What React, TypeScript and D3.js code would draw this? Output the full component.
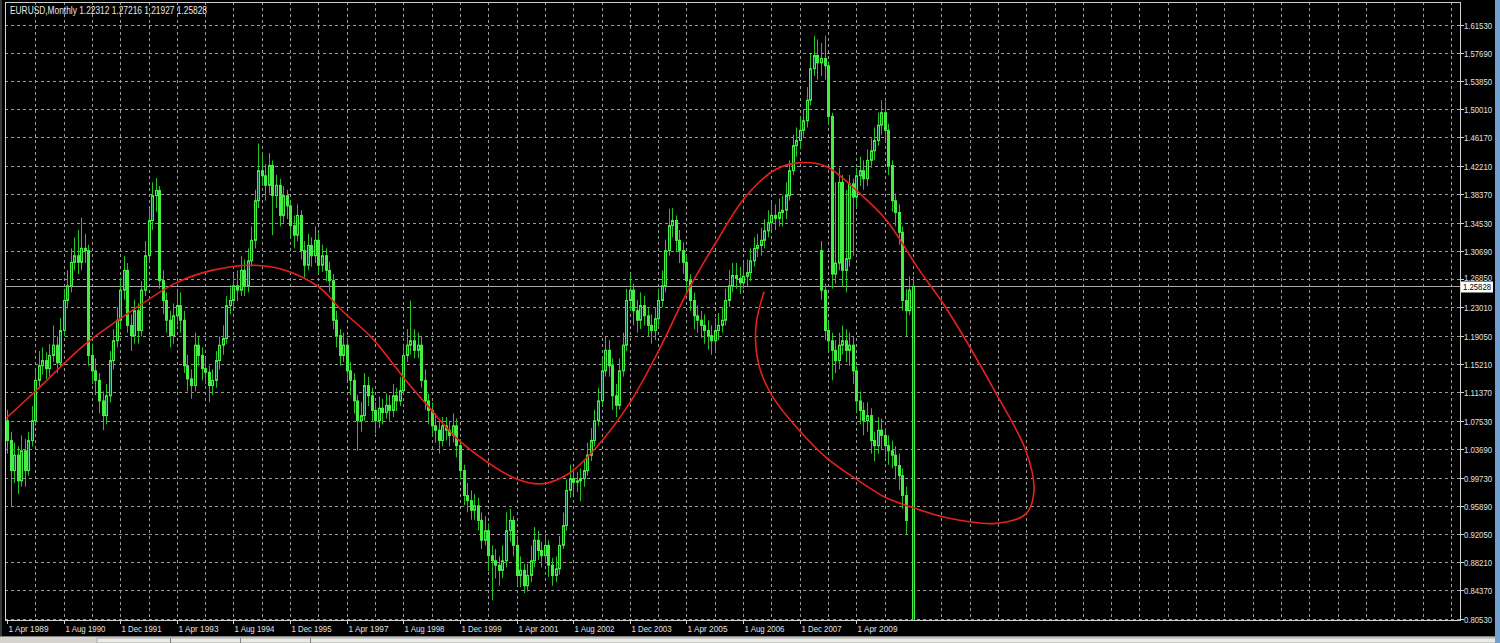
import React from "react";
import * as d3 from "d3";

const W = 1500;
const H = 643;

const titleText = "EURUSD,Monthly  1.22312 1.27216 1.21927 1.25828";
const priceTicks = ["1.61530","1.57690","1.53850","1.50010","1.46170","1.42210","1.38370","1.34530","1.30690","1.26850","1.23010","1.19050","1.15210","1.11370","1.07530","1.03690","0.99730","0.95890","0.92050","0.88210","0.84370","0.80530"];
const dateLabels = ["1 Apr 1989","1 Aug 1990","1 Dec 1991","1 Apr 1993","1 Aug 1994","1 Dec 1995","1 Apr 1997","1 Aug 1998","1 Dec 1999","1 Apr 2001","1 Aug 2002","1 Dec 2003","1 Apr 2005","1 Aug 2006","1 Dec 2007","1 Apr 2009"];
const currentPrice = 1.25828;

const firstOpen = 1.075;
const closes = [
  1.048,1.007,1.028,0.993,1.034,1.007,1.048,1.075,1.130,1.150,1.157,1.146,
  1.164,1.178,1.154,1.198,1.239,1.259,1.291,1.300,1.291,1.310,1.307,1.164,
  1.143,1.130,1.102,1.082,1.109,1.157,1.184,1.212,1.253,1.280,1.205,1.191,
  1.225,1.198,1.253,1.300,1.348,1.382,1.389,1.266,1.239,1.212,1.191,1.218,
  1.232,1.212,1.150,1.132,1.123,1.178,1.164,1.146,1.141,1.123,1.130,1.157,
  1.178,1.187,1.232,1.239,1.259,1.253,1.280,1.259,1.293,1.321,1.375,1.416,
  1.409,1.396,1.423,1.382,1.396,1.355,1.382,1.368,1.341,1.328,1.355,1.307,
  1.287,1.314,1.300,1.321,1.287,1.300,1.280,1.266,1.212,1.191,1.164,1.178,
  1.143,1.130,1.102,1.075,1.082,1.123,1.109,1.089,1.075,1.092,1.086,1.096,
  1.089,1.109,1.102,1.116,1.164,1.178,1.184,1.171,1.178,1.130,1.102,1.089,
  1.068,1.062,1.048,1.068,1.062,1.055,1.068,1.041,1.007,0.973,0.966,0.953,
  0.959,0.939,0.912,0.925,0.891,0.884,0.878,0.871,0.884,0.925,0.939,0.905,
  0.864,0.871,0.850,0.864,0.884,0.912,0.898,0.891,0.905,0.878,0.864,0.873,
  0.905,0.932,0.980,0.996,0.991,0.993,0.996,1.007,1.028,1.048,1.075,1.102,
  1.143,1.171,1.150,1.109,1.096,1.143,1.178,1.239,1.253,1.225,1.212,1.232,
  1.218,1.205,1.198,1.214,1.239,1.259,1.307,1.341,1.348,1.321,1.307,1.291,
  1.266,1.239,1.218,1.212,1.205,1.198,1.191,1.184,1.198,1.205,1.212,1.239,
  1.259,1.273,1.269,1.263,1.272,1.277,1.293,1.310,1.314,1.321,1.334,1.345,
  1.355,1.351,1.359,1.362,1.382,1.416,1.450,1.457,1.471,1.484,1.512,1.555,
  1.573,1.563,1.569,1.559,1.490,1.275,1.290,1.400,1.280,1.296,1.398,1.380,
  1.409,1.416,1.405,1.430,1.443,1.457,1.478,1.495,1.471,1.423,1.375,1.359,
  1.332,1.239,1.225,1.253
];
const highs = [
  1.090,1.060,1.045,1.040,1.055,1.050,1.060,1.095,1.145,1.170,1.175,1.168,
  1.180,1.205,1.190,1.215,1.255,1.280,1.310,1.325,1.335,1.352,1.330,1.315,
  1.180,1.160,1.140,1.115,1.125,1.170,1.200,1.230,1.270,1.300,1.290,1.220,
  1.240,1.235,1.265,1.320,1.365,1.400,1.406,1.395,1.280,1.250,1.225,1.235,
  1.255,1.250,1.225,1.165,1.145,1.195,1.190,1.175,1.160,1.150,1.145,1.170,
  1.190,1.205,1.245,1.260,1.275,1.280,1.300,1.295,1.310,1.340,1.390,1.453,
  1.440,1.425,1.440,1.430,1.410,1.405,1.395,1.390,1.375,1.355,1.370,1.362,
  1.320,1.330,1.325,1.340,1.330,1.315,1.310,1.292,1.275,1.225,1.200,1.195,
  1.188,1.155,1.140,1.110,1.100,1.140,1.135,1.120,1.100,1.108,1.105,1.112,
  1.110,1.125,1.120,1.135,1.180,1.200,1.239,1.200,1.195,1.190,1.145,1.112,
  1.100,1.085,1.075,1.080,1.080,1.075,1.085,1.078,1.050,1.015,0.990,0.980,
  0.975,0.970,0.950,0.945,0.935,0.905,0.900,0.890,0.905,0.950,0.955,0.945,
  0.915,0.890,0.880,0.880,0.905,0.930,0.925,0.910,0.920,0.912,0.888,0.890,
  0.918,0.950,0.995,1.015,1.010,1.005,1.010,1.020,1.045,1.065,1.090,1.120,
  1.160,1.190,1.185,1.160,1.125,1.160,1.195,1.255,1.275,1.262,1.240,1.250,
  1.245,1.230,1.220,1.230,1.255,1.280,1.322,1.364,1.365,1.355,1.335,1.318,
  1.300,1.275,1.250,1.232,1.225,1.220,1.212,1.205,1.215,1.222,1.230,1.255,
  1.280,1.290,1.290,1.285,1.290,1.295,1.310,1.325,1.330,1.338,1.350,1.362,
  1.372,1.370,1.378,1.382,1.400,1.430,1.465,1.475,1.490,1.500,1.530,1.575,
  1.600,1.595,1.590,1.600,1.565,1.495,1.400,1.420,1.410,1.390,1.410,1.405,
  1.420,1.435,1.430,1.445,1.460,1.475,1.495,1.512,1.510,1.480,1.430,1.385,
  1.370,1.340,1.255,1.272
];
const lows = [
  1.030,0.957,0.990,0.975,0.985,0.985,1.000,1.040,1.068,1.120,1.138,1.132,
  1.135,1.155,1.140,1.148,1.190,1.228,1.250,1.280,1.275,1.280,1.290,1.150,
  1.125,1.110,1.085,1.062,1.070,1.100,1.145,1.175,1.200,1.240,1.195,1.170,
  1.180,1.180,1.190,1.245,1.290,1.335,1.360,1.255,1.220,1.195,1.175,1.180,
  1.205,1.195,1.140,1.115,1.105,1.115,1.150,1.130,1.125,1.100,1.110,1.120,
  1.145,1.165,1.180,1.220,1.230,1.238,1.245,1.245,1.250,1.285,1.310,1.365,
  1.395,1.375,1.385,1.328,1.365,1.340,1.345,1.350,1.325,1.310,1.320,1.295,
  1.270,1.280,1.285,1.290,1.275,1.278,1.265,1.250,1.200,1.175,1.150,1.155,
  1.130,1.110,1.085,1.034,1.060,1.075,1.095,1.075,1.058,1.065,1.070,1.078,
  1.075,1.080,1.088,1.095,1.110,1.155,1.165,1.160,1.160,1.120,1.090,1.070,
  1.055,1.045,1.030,1.040,1.048,1.040,1.045,1.025,0.995,0.960,0.950,0.940,
  0.940,0.925,0.900,0.905,0.870,0.830,0.860,0.850,0.860,0.875,0.910,0.890,
  0.850,0.848,0.840,0.842,0.855,0.875,0.885,0.875,0.880,0.862,0.850,0.855,
  0.865,0.900,0.925,0.970,0.975,0.978,0.965,0.985,1.000,1.020,1.040,1.068,
  1.095,1.135,1.135,1.090,1.080,1.090,1.135,1.170,1.225,1.205,1.195,1.200,
  1.205,1.190,1.180,1.185,1.205,1.230,1.250,1.300,1.325,1.305,1.290,1.275,
  1.250,1.225,1.200,1.195,1.188,1.180,1.172,1.165,1.170,1.185,1.195,1.205,
  1.230,1.250,1.255,1.248,1.255,1.258,1.265,1.285,1.298,1.300,1.310,1.325,
  1.335,1.335,1.340,1.340,1.350,1.375,1.410,1.435,1.445,1.460,1.475,1.505,
  1.545,1.540,1.545,1.540,1.480,1.255,1.262,1.280,1.258,1.250,1.285,1.300,
  1.365,1.395,1.390,1.395,1.420,1.430,1.450,1.465,1.455,1.410,1.360,1.340,
  1.315,1.225,1.190,1.219
];

// second (overlaid) candle series, starting at month index 230
const overlayStart = 230;
const overlayOpen = 1.307;
const overlayCloses = [1.253,1.198,1.184,1.171,1.157,1.178,1.184,1.171,1.178,1.143,1.102,1.089,1.075,1.082,1.048,1.041,1.062,1.055,1.041,1.034,1.028,1.014,1.000,0.973,0.939];
const overlayHighs = [1.320,1.262,1.210,1.195,1.185,1.195,1.205,1.200,1.195,1.190,1.150,1.115,1.100,1.100,1.092,1.060,1.080,1.078,1.065,1.055,1.048,1.040,1.030,1.010,0.985];
const overlayLows = [1.240,1.185,1.170,1.130,1.140,1.145,1.165,1.155,1.150,1.125,1.085,1.070,1.055,1.060,1.030,1.020,1.030,1.035,1.025,1.015,1.010,0.995,0.980,0.955,0.920];

// last, very tall bar
const lastBarOpen = 0.75;
const lastBarHigh = 1.27216;
const lastBarLow = 0.75;
const lastBarClose = 1.25828;

// hand-drawn red curve (month index, price)
const curveMonths = [-0.3,8.2,22.3,35.3,47.8,57.9,69.2,78.8,88.2,94.7,103.1,112.7,118.4,126.9,136.2,143.8,151.2,158.8,166.4,175.8,184.2,192.7,200.3,208.8,217.3,224.6,231.4,240.7,248.4,257.7,265.3,279.5,287.9,290.2,287.9,279.5,265.3,255.7,248.4,240.7,231.4,222.9,216.2,212.5,211.6,213.9];
const curvePrices = [1.078,1.116,1.180,1.225,1.263,1.280,1.287,1.280,1.257,1.225,1.188,1.130,1.098,1.052,1.017,0.996,0.989,1.003,1.038,1.098,1.171,1.255,1.318,1.381,1.418,1.427,1.422,1.386,1.349,1.281,1.229,1.112,1.034,0.980,0.948,0.935,0.943,0.957,0.970,0.993,1.025,1.067,1.109,1.150,1.203,1.251];

const CHART_L = 5;
const CHART_T = 2;
const CHART_R = 1460;
const CHART_B = 620;

const x = d3.scaleLinear().domain([0, 400]).range([7, 7 + 3.539 * 400]);
const y = d3.scaleLinear().domain([0.8053, 1.6153]).range([618.5, 24.5]);

type Bar = { i: number; o: number; h: number; l: number; c: number };

const mainBars: Bar[] = closes.map((c, i) => ({ i, o: i === 0 ? firstOpen : closes[i - 1], h: highs[i], l: lows[i], c }));
const overlayBars: Bar[] = overlayCloses.map((c, k) => ({ i: overlayStart + k, o: k === 0 ? overlayOpen : overlayCloses[k - 1], h: overlayHighs[k], l: overlayLows[k], c }));
const lastBar: Bar = { i: closes.length, o: lastBarOpen, h: lastBarHigh, l: lastBarLow, c: lastBarClose };

const GRID = "#9a9a9a";
const WICK = "#22c322";
const BODY = "#45ee45";

function Candle({ b }: { b: Bar }) {
  const cx = Math.round(x(b.i)) + 0.5;
  const top = y(Math.max(b.o, b.c));
  const bot = y(Math.min(b.o, b.c));
  const bull = b.c >= b.o;
  return (
    <g>
      <line x1={cx} x2={cx} y1={y(b.h)} y2={y(b.l)} stroke={WICK} strokeWidth={1} />
      <rect x={cx - 1} y={top} width={2} height={Math.max(1, bot - top)} fill={bull ? "#063" : BODY} stroke={BODY} strokeWidth={1} />
    </g>
  );
}

export default function App() {
  const vGrid = d3.range(8, 409, 8);
  const curve = d3.line<number>()
    .x((_, k) => x(curveMonths[k]))
    .y((_, k) => y(curvePrices[k]))
    .curve(d3.curveCatmullRom.alpha(0.5))(curvePrices.map((_, k) => k));
  const curY = Math.round(y(currentPrice)) + 0.5;

  return (
    <div style={{ position: "fixed", left: 0, top: 0, width: W, height: H, background: "#000" }}>
      <svg width={W} height={H} style={{ display: "block" }} fontFamily="'Liberation Sans', Arial, sans-serif">
        <defs>
          <clipPath id="plot">
            <rect x={CHART_L + 1} y={CHART_T + 1} width={CHART_R - CHART_L - 1} height={CHART_B - CHART_T - 1} />
          </clipPath>
        </defs>
        <rect x={0} y={0} width={W} height={H} fill="#000" />

        {/* grid */}
        <g stroke={GRID} strokeWidth={1} strokeDasharray="3 3">
          {priceTicks.map((t) => {
            const yy = Math.round(y(parseFloat(t))) + 0.5;
            return <line key={t} x1={CHART_L} x2={CHART_R} y1={yy} y2={yy} />;
          })}
          {vGrid.map((m) => {
            const xx = Math.round(x(m)) + 0.5;
            return <line key={m} x1={xx} x2={xx} y1={CHART_T} y2={CHART_B} />;
          })}
        </g>

        {/* current price line */}
        <line x1={CHART_L} x2={CHART_R} y1={curY} y2={curY} stroke="#a8a8a8" strokeWidth={1} />

        <g clipPath="url(#plot)">
          {mainBars.map((b) => <Candle key={"m" + b.i} b={b} />)}
          {overlayBars.map((b) => <Candle key={"o" + b.i} b={b} />)}
          <Candle b={lastBar} />
          <path d={curve || ""} fill="none" stroke="#e8201c" strokeWidth={1.6} />
        </g>

        {/* frame */}
        <rect x={CHART_L + 0.5} y={CHART_T + 0.5} width={CHART_R - CHART_L} height={CHART_B - CHART_T} fill="none" stroke="#d0d0d0" strokeWidth={1} />

        {/* title */}
        <text x={10} y={14} fill="#e8e8e8" fontSize={10} textLength={197} lengthAdjust="spacingAndGlyphs">{titleText}</text>

        {/* right axis */}
        {priceTicks.map((t) => {
          const yy = Math.round(y(parseFloat(t))) + 0.5;
          const near = Math.abs(yy - curY) < 10;
          return (
            <g key={"l" + t}>
              <line x1={CHART_R} x2={CHART_R + 4} y1={yy} y2={yy} stroke="#d0d0d0" />
              <text x={CHART_R + 4} y={near ? yy + 1.5 : yy + 3.5} fill="#e0e0e0" fontSize={near ? 8.5 : 9.5} textLength={28} lengthAdjust="spacingAndGlyphs">{t}</text>
            </g>
          );
        })}
        <rect x={CHART_R + 1} y={curY - 5} width={32} height={11} fill="#fff" />
        <text x={CHART_R + 3} y={curY + 3.5} fill="#000" fontSize={9.5} textLength={28} lengthAdjust="spacingAndGlyphs">{currentPrice.toFixed(5)}</text>

        {/* bottom axis */}
        {dateLabels.map((d, k) => {
          const xx = Math.round(x(k * 16)) + 0.5;
          return (
            <g key={d}>
              <line x1={xx} x2={xx} y1={CHART_B} y2={CHART_B + 4} stroke="#d0d0d0" />
              <text x={xx + 1} y={632} fill="#e0e0e0" fontSize={9.5} textLength={40} lengthAdjust="spacingAndGlyphs">{d}</text>
            </g>
          );
        })}

        {/* window chrome */}
        <rect x={0} y={636} width={W} height={7} fill="#d6d3ce" />
        <line x1={0} x2={W} y1={636.5} y2={636.5} stroke="#808080" />
        <rect x={97} y={638} width={1400} height={5} fill="#ecebe8" stroke="#9a9a9a" strokeWidth={0.8} />
        {[170, 240, 310].map((v) => <line key={v} x1={v + 0.5} x2={v + 0.5} y1={638} y2={643} stroke="#808080" />)}
        <rect x={1495} y={0} width={5} height={H} fill="#6f9fd0" />
        <rect x={0} y={0} width={2} height={636} fill="#3a3a3a" />
      </svg>
    </div>
  );
}
